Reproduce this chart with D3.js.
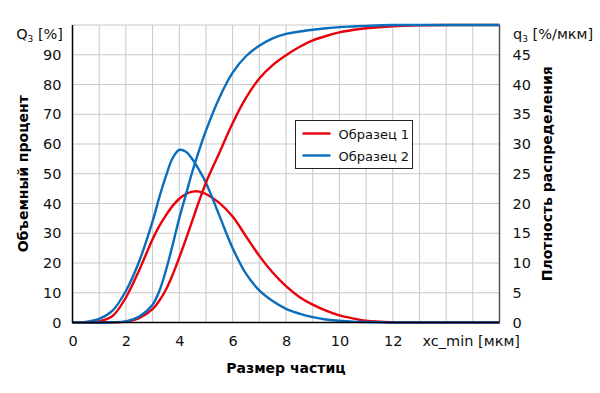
<!DOCTYPE html>
<html>
<head>
<meta charset="utf-8">
<script src="https://cdn.jsdelivr.net/npm/d3@7"></script>
<style>
body { margin:0; background:#fff; }
text { font-family: "DejaVu Sans", Verdana, sans-serif; }
</style>
</head>
<body>
<svg id="drawing_region"></svg>
<script>
// размер частиц, мкм
const sizes = [0,0.5,1,1.5,2,2.5,3,3.25,3.5,3.75,4,4.25,4.5,4.75,5,5.5,6,6.5,7,7.5,8,8.5,9,9.5,10,10.5,11,12,13,14,15,16];
// Q3, % (левая ось)
const cum1 = [0,0,0,0.05,0.3,1.5,4.5,7.3,11,16,21.8,28,34.5,41,47,57,67,75.5,82,86.5,89.8,92.6,94.8,96.3,97.5,98.3,98.9,99.6,99.9,100,100,100];
const cum2 = [0,0,0,0.1,0.4,2,6,10.5,17.5,26,35,43,51,58,64.5,75.5,84,89.5,93,95.5,97,97.8,98.4,98.9,99.3,99.5,99.7,100,100,100,100,100];
// q3, %/мкм (правая ось)
const dens1 = [0,0,0.2,1.1,4.2,8.8,14,16.2,18,19.6,20.8,21.6,22,22,21.6,20.1,17.8,14.5,11.2,8.4,6.1,4.3,3,2,1.2,0.7,0.3,0.05,0,0,0,0];
const dens2 = [0,0.1,0.6,2,5.3,10.3,17,21,24.6,27.6,29,28.7,27.4,25.6,23.5,18,12.5,8.2,5.4,3.6,2.3,1.5,0.9,0.5,0.3,0.15,0.08,0,0,0,0,0];

const seriesNames = ["Образец 1", "Образец 2"];
const seriesColors = ["#e8000b", "#0a6ebd"];

const xTicks = [0,2,4,6,8,10,12];
const leftTicks = [0,10,20,30,40,50,60,70,80,90];
const rightTicks = [0,5,10,15,20,25,30,35,40,45];

class DualChart {
    constructor(config) {
        this.config = config;
        this.init();
    }

    init() {
        let self = this;
        const c = self.config;
        self.svg = d3.select(c.parent)
            .attr('width', c.width)
            .attr('height', c.height);

        self.xscale = d3.scaleLinear().domain([0, 16]).range([c.left, c.right]);
        self.yleft = d3.scaleLinear().domain([0, 100]).range([c.bottom, c.top]);
        self.yright = d3.scaleLinear().domain([0, 50]).range([c.bottom, c.top]);
    }

    render() {
        let self = this;
        const c = self.config;
        const svg = self.svg;

        // сетка
        const grid = svg.append('g').attr('stroke', '#c8c8c8').attr('stroke-width', 1);
        grid.selectAll('.gx').data(d3.range(1, 16)).join('line')
            .attr('x1', d => self.xscale(d)).attr('x2', d => self.xscale(d))
            .attr('y1', c.top).attr('y2', c.bottom);
        grid.selectAll('.gy').data(d3.range(10, 101, 10)).join('line')
            .attr('x1', c.left).attr('x2', c.right)
            .attr('y1', d => self.yleft(d)).attr('y2', d => self.yleft(d));

        // рамка
        svg.append('line').attr('x1', c.right).attr('x2', c.right)
            .attr('y1', c.top).attr('y2', c.bottom)
            .attr('stroke', '#555').attr('stroke-width', 1.5);

        // оси
        const fs = '14.5px';
        const xaxis = svg.append('g').attr('transform', `translate(0,${c.bottom})`)
            .call(d3.axisBottom(self.xscale).tickValues(xTicks).tickSize(0).tickPadding(13));
        const yaxisL = svg.append('g').attr('transform', `translate(${c.left},0)`)
            .call(d3.axisLeft(self.yleft).tickValues(leftTicks).tickSize(0).tickPadding(11));
        const yaxisR = svg.append('g').attr('transform', `translate(${c.right},0)`)
            .call(d3.axisRight(self.yright).tickValues(rightTicks).tickSize(0).tickPadding(13));
        [xaxis, yaxisL, yaxisR].forEach(g => {
            g.selectAll('text').attr('font-size', fs).attr('fill', '#111')
                .style('font-family', '"DejaVu Sans", Verdana, sans-serif');
            g.select('.domain').remove();
        });

        // кривые
        const pts = (arr) => sizes.map((s, i) => [s, arr[i]]);
        const curve = d3.curveCatmullRom.alpha(0.5);
        const lineL = d3.line().x(d => self.xscale(d[0])).y(d => self.yleft(d[1])).curve(curve);
        const lineR = d3.line().x(d => self.xscale(d[0])).y(d => self.yright(d[1])).curve(curve);
        const curves = [
            {d: lineR(pts(dens1)), col: seriesColors[0]},
            {d: lineR(pts(dens2)), col: seriesColors[1]},
            {d: lineL(pts(cum1)), col: seriesColors[0]},
            {d: lineL(pts(cum2)), col: seriesColors[1]}
        ];
        svg.append('g').selectAll('path').data(curves).join('path')
            .attr('d', d => d.d).attr('fill', 'none')
            .attr('stroke', d => d.col).attr('stroke-width', 2.4);

        svg.append('line').attr('x1', c.left).attr('x2', c.left)
            .attr('y1', c.top).attr('y2', c.bottom + 0.5)
            .attr('stroke', '#000').attr('stroke-width', 1.5);
        svg.append('line').attr('x1', c.left).attr('x2', c.right)
            .attr('y1', c.bottom).attr('y2', c.bottom)
            .attr('stroke', '#000').attr('stroke-width', 1.5);

        // подписи осей
        const q = svg.append('text').attr('x', 63).attr('y', 39).attr('text-anchor', 'end')
            .attr('font-size', fs).attr('fill', '#111');
        q.append('tspan').text('Q');
        q.append('tspan').attr('font-size', '9px').attr('dy', 3).text('3');
        q.append('tspan').attr('dy', -3).text(' [%]');

        const q2 = svg.append('text').attr('x', 513).attr('y', 39)
            .attr('font-size', fs).attr('fill', '#111');
        q2.append('tspan').text('q');
        q2.append('tspan').attr('font-size', '9px').attr('dy', 3).text('3');
        q2.append('tspan').attr('dy', -3).text(' [%/мкм]');

        svg.append('text').attr('x', 520).attr('y', 346).attr('text-anchor', 'end')
            .attr('font-size', fs).attr('fill', '#111').text('xc_min [мкм]');

        const mid = (c.top + c.bottom) / 2;
        svg.append('text').attr('transform', `translate(28,${mid}) rotate(-90)`)
            .attr('text-anchor', 'middle').attr('font-size', '14px').attr('font-weight', 'bold')
            .text('Объемный процент');
        svg.append('text').attr('transform', `translate(552,${mid}) rotate(-90)`)
            .attr('text-anchor', 'middle').attr('font-size', '14px').attr('font-weight', 'bold')
            .text('Плотность распределения');
        svg.append('text').attr('x', (c.left + c.right) / 2).attr('y', 373)
            .attr('text-anchor', 'middle').attr('font-size', '14px').attr('font-weight', 'bold')
            .text('Размер частиц');

        // легенда
        const lg = svg.append('g').attr('transform', 'translate(295.5,120.5)');
        lg.append('rect').attr('width', 117).attr('height', 48)
            .attr('fill', '#fff').attr('stroke', '#222').attr('stroke-width', 1);
        lg.selectAll('line').data(seriesNames).join('line')
            .attr('x1', 7).attr('x2', 35)
            .attr('y1', (d, i) => 13 + i * 22).attr('y2', (d, i) => 13 + i * 22)
            .attr('stroke', (d, i) => seriesColors[i]).attr('stroke-width', 2.4);
        lg.selectAll('text').data(seriesNames).join('text')
            .attr('x', 43).attr('y', (d, i) => 18 + i * 22)
            .attr('font-size', '13px').attr('fill', '#111').text(d => d);
    }
}

const chart = new DualChart({
    parent: '#drawing_region',
    width: 600, height: 393,
    left: 72.5, right: 499.5, top: 25, bottom: 322.5
});
chart.render();
</script>
</body>
</html>
